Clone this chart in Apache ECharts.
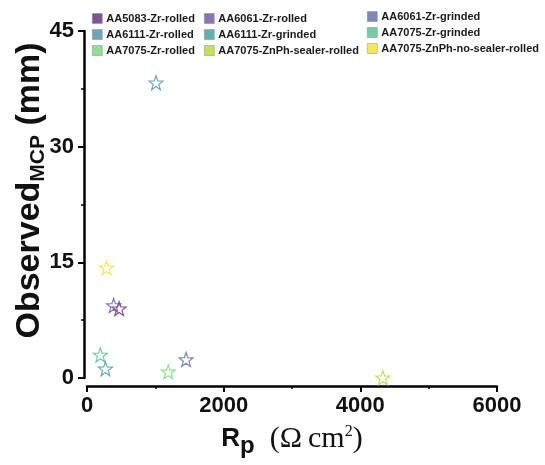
<!DOCTYPE html>
<html>
<head>
<meta charset="utf-8">
<script src="https://cdn.jsdelivr.net/npm/echarts@6/dist/echarts.min.js"></script>
<style>
    html, body { margin: 0; padding: 0; background: #fff; }
    #chart_mcp { width: 545px; height: 465px; }
</style>
</head>
<body>
<div id="chart_mcp"></div>
<script>
// samples
var sample_names = [
    'AA5083-Zr-rolled', 'AA6061-Zr-rolled', 'AA6061-Zr-grinded',
    'AA6111-Zr-rolled', 'AA6111-Zr-grinded', 'AA7075-Zr-grinded',
    'AA7075-Zr-rolled', 'AA7075-ZnPh-sealer-rolled', 'AA7075-ZnPh-no-sealer-rolled'
];
var sample_colors = [
    '#5e2a74', '#6a54a0', '#5a6aa8',
    '#4c8dac', '#3a9e9e', '#4cbf8c',
    '#74d77a', '#aedc32', '#f5e22a'
];
var rp_values = [470, 390, 1450, 1010, 270, 195, 1190, 4330, 285];   // Ω cm²
var mcp_values = [9.0, 9.4, 2.4, 38.3, 1.2, 3.0, 0.8, 0.05, 14.3];    // mm

var x_ticks = [0, 2000, 4000, 6000];
var y_ticks = [0, 15, 30, 45];

// columns of the legend
var legend_cols = [
    ['AA5083-Zr-rolled', 'AA6111-Zr-rolled', 'AA7075-Zr-rolled'],
    ['AA6061-Zr-rolled', 'AA6111-Zr-grinded', 'AA7075-ZnPh-sealer-rolled'],
    ['AA6061-Zr-grinded', 'AA7075-Zr-grinded', 'AA7075-ZnPh-no-sealer-rolled']
];

var star_path = 'path://M0,-10L2.35,-3.24L9.51,-3.09L3.8,1.24L5.88,8.09L0,4L-5.88,8.09L-3.8,1.24L-9.51,-3.09L-2.35,-3.24Z';

function colorOf(name) {
    return sample_colors[sample_names.indexOf(name)];
}

var chart_mcp = echarts.init(document.getElementById('chart_mcp'));

var series = sample_names.map(function (name, i) {
    return {
        name: name,
        type: 'scatter',
        symbol: star_path,
        symbolSize: 14,
        data: [[rp_values[i], mcp_values[i]]],
        itemStyle: {
            color: 'rgba(255,255,255,0)',
            borderColor: sample_colors[i],
            borderWidth: 1.2
        }
    };
});

var legend_left = [87, 199, 362];
var legend_top = [8, 8, 6];
var legends = legend_cols.map(function (col, c) {
    return {
        orient: 'vertical',
        left: legend_left[c],
        top: legend_top[c],
        itemGap: 5,
        itemWidth: 10,
        itemHeight: 10,
        icon: 'rect',
        selectedMode: false,
        textStyle: { fontFamily: 'Arial', fontWeight: 'bold', fontSize: 11, color: '#1a1a1a', padding: [0, 0, 0, -1] },
        data: col.map(function (n) {
            return { name: n, itemStyle: { color: colorOf(n), borderColor: '#888', borderWidth: 0.6 } };
        })
    };
});

var axis_font = { fontFamily: 'Arial', fontWeight: 'bold', fontSize: 22, color: '#111' };

var option = {
    animation: false,
    legend: legends,
    grid: { left: 87, right: 48, top: 31, bottom: 87, outerBoundsMode: 'none', containLabel: false },
    xAxis: {
        type: 'value',
        min: x_ticks[0],
        max: x_ticks[x_ticks.length - 1],
        interval: 2000,
        offset: 8,
        splitLine: { show: false },
        axisLine: { show: true, onZero: false, lineStyle: { color: '#000', width: 2.5 } },
        axisTick: { show: true, length: 6, lineStyle: { width: 2 } },
        minorTick: { show: true, splitNumber: 2, length: 3, lineStyle: { color: '#000', width: 1.5 } },
        axisLabel: Object.assign({ margin: 9, formatter: function (v) { return String(v); } }, axis_font),
        name: '{r|R}{p|p}{u|  (Ω\u2009cm}{s|2}{u|)}',
        nameLocation: 'middle',
        nameGap: 38,
        nameMoveOverlap: false,
        nameTextStyle: {
            rich: {
                r: { fontFamily: 'Arial', fontWeight: 'bold', fontSize: 26, color: '#111', lineHeight: 30 },
                p: { fontFamily: 'Arial', fontWeight: 'bold', fontSize: 24, color: '#111', padding: [14, 0, 0, 0], lineHeight: 30 },
                u: { fontFamily: 'Liberation Serif', fontSize: 30, color: '#111', lineHeight: 30 },
                s: { fontFamily: 'Liberation Serif', fontSize: 16, color: '#111', padding: [0, 0, 14, 0], lineHeight: 30 }
            }
        }
    },
    yAxis: {
        type: 'value',
        min: y_ticks[0],
        max: y_ticks[y_ticks.length - 1],
        interval: 15,
        offset: 3,
        splitLine: { show: false },
        axisLine: { show: true, onZero: false, lineStyle: { color: '#000', width: 2.5 } },
        axisTick: { show: true, length: 6, lineStyle: { width: 2 } },
        minorTick: { show: true, splitNumber: 2, length: 3, lineStyle: { color: '#000', width: 1.5 } },
        axisLabel: Object.assign({ margin: 10 }, axis_font),
        name: '{a|Observed}{b|MCP}{a| (mm)}',
        nameLocation: 'middle',
        nameGap: 34,
        nameMoveOverlap: false,
        nameRotate: 90,
        nameTextStyle: {
            padding: [0, 0, 0, 28],
            rich: {
                a: { fontFamily: 'Arial', fontWeight: 'bold', fontSize: 34, color: '#111', lineHeight: 40 },
                b: { fontFamily: 'Arial', fontWeight: 'bold', fontSize: 21, color: '#111', padding: [16, 0, 0, 0], lineHeight: 40 }
            }
        }
    },
    series: series
};

chart_mcp.setOption(option);
</script>
</body>
</html>
